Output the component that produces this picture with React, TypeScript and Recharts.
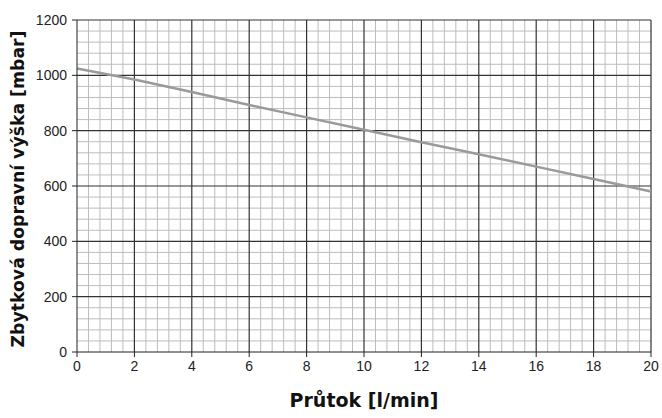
import React from 'react';
import {
  LineChart,
  Line,
  XAxis,
  YAxis,
  ReferenceLine,
} from 'recharts';

// Průtok [l/min]
const flowValues = [0, 2, 4, 6, 8, 10, 12, 14, 16, 18, 20];
// Zbytková dopravní výška [mbar]
const headValues = [1025, 985, 940, 893, 848, 803, 758, 715, 670, 625, 580];

const xTicks = [0, 2, 4, 6, 8, 10, 12, 14, 16, 18, 20];
const yTicks = [0, 200, 400, 600, 800, 1000, 1200];
const xMinor = [0.4, 0.8, 1.2, 1.6];
const yMinor = [40, 80, 120, 160];

const chartData = flowValues.map((f, i) => ({ flow: f, head: headValues[i] }));

const minorX = xTicks.slice(0, -1).flatMap(t => xMinor.map(m => t + m));
const minorY = yTicks.slice(0, -1).flatMap(t => yMinor.map(m => t + m));

const tickStyle = { fontFamily: 'Liberation Sans, Arial, sans-serif', fontSize: 14, fill: '#222' };
const labelFont = 'DejaVu Sans, sans-serif';

const App: React.FC = () => {
  return (
    <div style={{ position: 'absolute', left: 0, top: 0, width: 662, height: 418, background: '#fff' }}>
      <LineChart
        width={662}
        height={418}
        data={chartData}
        margin={{ top: 20, right: 11, left: 0, bottom: 0 }}
      >
        <XAxis
          dataKey="flow"
          type="number"
          domain={[0, 20]}
          ticks={xTicks}
          height={66}
          stroke="#222"
          tickSize={5}
          tick={{ ...tickStyle, dy: 2 }}
          label={(props: any) => {
            const vb = props.viewBox;
            return (
              <text
                x={vb.x + vb.width / 2}
                y={407}
                textAnchor="middle"
                fontFamily={labelFont}
                fontWeight="bold"
                fontSize={19}
                fill="#111"
              >
                Průtok [l/min]
              </text>
            );
          }}
        />
        <YAxis
          type="number"
          domain={[0, 1200]}
          ticks={yTicks}
          width={77}
          stroke="#222"
          tickSize={5}
          tick={{ ...tickStyle, dx: -3 }}
          label={(props: any) => {
            const vb = props.viewBox;
            const cy = vb.y + vb.height / 2 + 3;
            return (
              <text
                x={19}
                y={cy}
                transform={`rotate(-90, 19, ${cy})`}
                textAnchor="middle"
                dominantBaseline="middle"
                fontFamily={labelFont}
                fontWeight="bold"
                fontSize={17.3}
                fill="#111"
              >
                Zbytková dopravní výška [mbar]
              </text>
            );
          }}
        />
        {minorX.map(v => (
          <ReferenceLine key={`mx${v}`} x={v} stroke="#bdbdbd" strokeWidth={1} />
        ))}
        {minorY.map(v => (
          <ReferenceLine key={`my${v}`} y={v} stroke="#bdbdbd" strokeWidth={1} />
        ))}
        {xTicks.slice(1).map(v => (
          <ReferenceLine key={`Mx${v}`} x={v} stroke="#333" strokeWidth={1.2} />
        ))}
        {yTicks.slice(1).map(v => (
          <ReferenceLine key={`My${v}`} y={v} stroke="#333" strokeWidth={1.2} />
        ))}
        <Line
          type="linear"
          dataKey="head"
          stroke="#9a9a9a"
          strokeWidth={2.5}
          dot={false}
          isAnimationActive={false}
        />
      </LineChart>
    </div>
  );
};

export default App;
